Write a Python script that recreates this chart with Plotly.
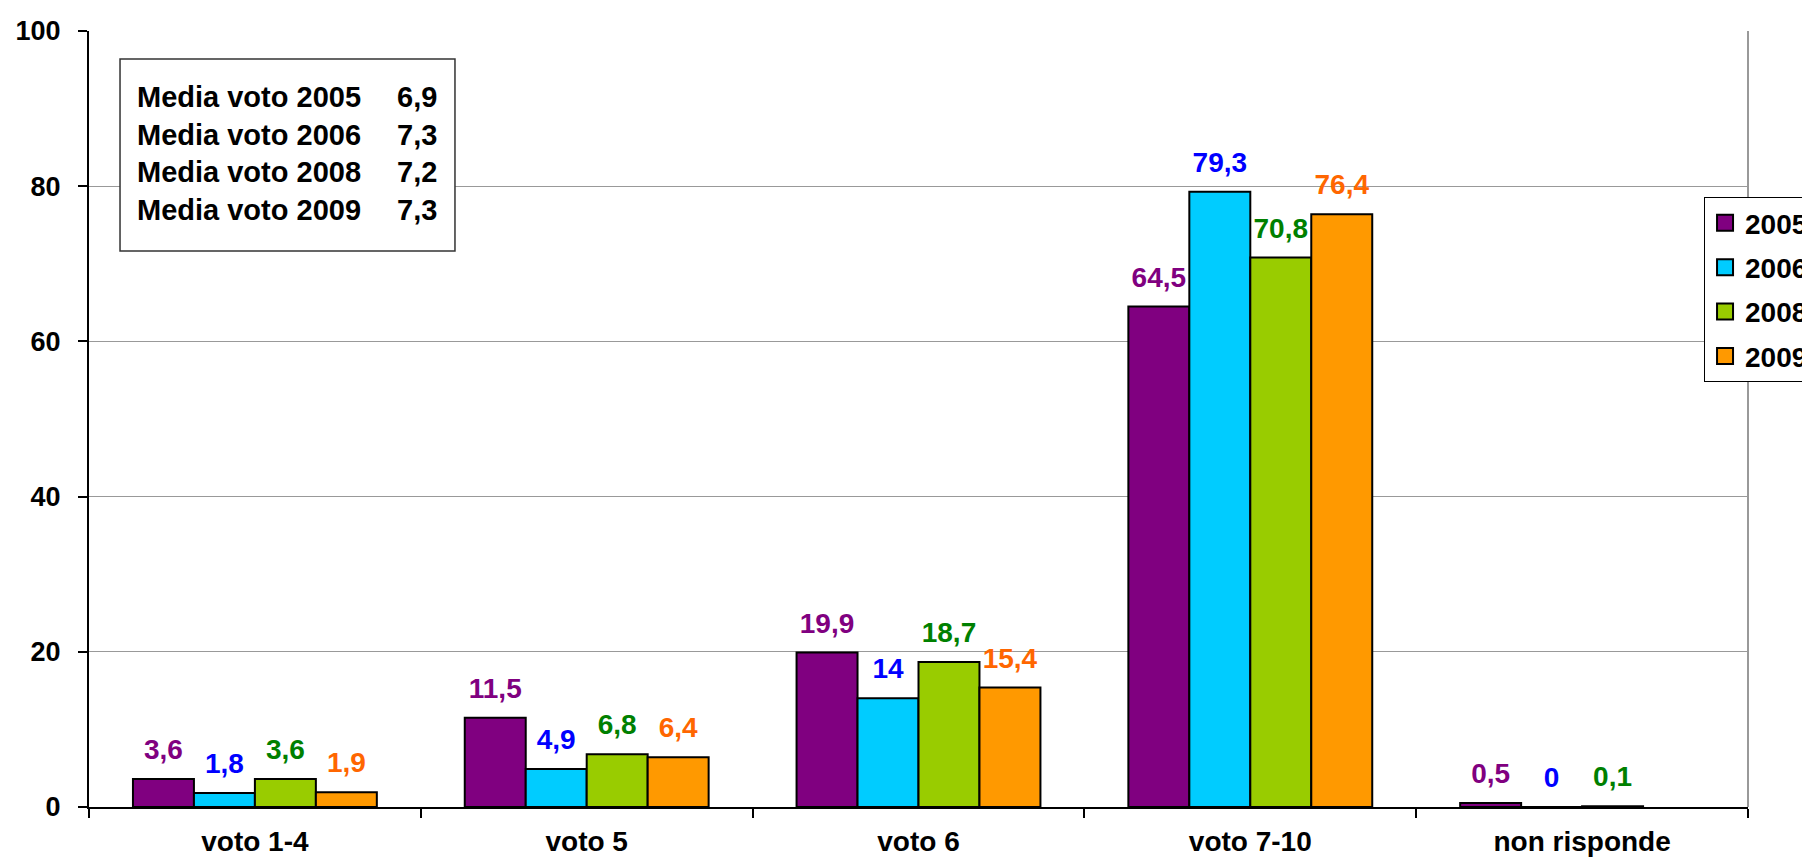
import plotly.graph_objects as go

categories = ["voto 1-4", "voto 5", "voto 6", "voto 7-10", "non risponde"]
years = ["2005", "2006", "2008", "2009"]
v2005 = [3.6, 11.5, 19.9, 64.5, 0.5]
v2006 = [1.8, 4.9, 14, 79.3, 0]
v2008 = [3.6, 6.8, 18.7, 70.8, 0.1]
v2009 = [1.9, 6.4, 15.4, 76.4, None]
series = [v2005, v2006, v2008, v2009]
bar_colors = ["#800080", "#00CCFF", "#99CC00", "#FF9900"]
label_colors = ["#800080", "#0000FF", "#008000", "#FF6600"]
media_labels = ["Media voto 2005", "Media voto 2006", "Media voto 2008", "Media voto 2009"]
media_values = ["6,9", "7,3", "7,2", "7,3"]
y_ticks = [0, 20, 40, 60, 80, 100]

FONT = "Liberation Sans, Arial, sans-serif"
BARGAP = 0.265


def fmt(v):
    return "" if v is None else f"{v:g}".replace(".", ",")


fig = go.Figure()
for yr, vals, bc in zip(years, series, bar_colors):
    fig.add_trace(go.Bar(
        x=categories, y=vals, name=yr, offsetgroup=yr, legendgroup=yr,
        marker=dict(color=bc, line=dict(color="black", width=2)),
        hoverinfo="skip", showlegend=False,
    ))
for yr, vals, lc in zip(years, series, label_colors):
    fig.add_trace(go.Scatter(
        x=categories, y=vals, mode="markers+text", offsetgroup=yr, legendgroup=yr,
        text=[fmt(v) for v in vals], textposition="top center",
        textfont=dict(family=FONT, size=28, color=lc, weight="bold"),
        marker=dict(size=19, color="rgba(0,0,0,0)"),
        showlegend=False, hoverinfo="skip", cliponaxis=False,
    ))
# legend-only entries with larger square swatches
for yr, bc in zip(years, bar_colors):
    fig.add_trace(go.Scatter(
        x=[None], y=[None], mode="markers", name=yr, offsetgroup=yr, legendgroup=yr,
        marker=dict(symbol="square", size=16, color=bc, line=dict(color="black", width=2)),
        hoverinfo="skip",
    ))

# annotation box
fig.add_shape(type="rect", xref="paper", yref="paper",
              x0=0.0187, x1=0.2206, y0=0.7165, y1=0.9639,
              line=dict(color="#333333", width=1.5), fillcolor="white", layer="above")
fig.add_annotation(xref="paper", yref="paper", x=0.0277, y=0.842,
                   xanchor="left", yanchor="middle", align="left", showarrow=False,
                   text="<br>".join(media_labels),
                   font=dict(family=FONT, size=29, color="black", weight="bold"))
fig.add_annotation(xref="paper", yref="paper", x=0.211, y=0.842,
                   xanchor="right", yanchor="middle", align="right", showarrow=False,
                   text="<br>".join(media_values),
                   font=dict(family=FONT, size=29, color="black", weight="bold"))
# right border
fig.add_shape(type="line", xref="paper", yref="paper", x0=1, x1=1, y0=0, y1=1,
              line=dict(color="#999999", width=2))

fig.update_layout(
    width=1810, height=860,
    margin=dict(l=81, r=70, t=23, b=61, autoexpand=False),
    paper_bgcolor="white", plot_bgcolor="white",
    barmode="group", bargap=BARGAP, bargroupgap=0,
    scattermode="group", scattergap=BARGAP,
    font=dict(family=FONT, size=28, color="black", weight="bold"),
    legend=dict(x=0.9735, y=0.786, xanchor="left", yanchor="top",
                bordercolor="black", borderwidth=1, bgcolor="white",
                traceorder="grouped", tracegroupgap=5,
                font=dict(family=FONT, size=28, color="black", weight="bold")),
    xaxis=dict(type="category", showline=True, linecolor="black", linewidth=2,
               ticks="outside", tickson="boundaries", ticklen=9, tickwidth=1.5,
               tickcolor="black", showgrid=False, ticklabelstandoff=8,
               tickfont=dict(family=FONT, size=28, color="black", weight="bold")),
    yaxis=dict(range=[0, 100], tickvals=y_ticks, showline=True, linecolor="black",
               linewidth=2, ticks="outside", ticklen=9, tickwidth=1.5, tickcolor="black",
               showgrid=True, gridcolor="#999999", gridwidth=1, zeroline=False,
               ticklabelstandoff=12,
               tickfont=dict(family=FONT, size=27, color="black", weight="bold")),
)

fig.write_html("out.html")
